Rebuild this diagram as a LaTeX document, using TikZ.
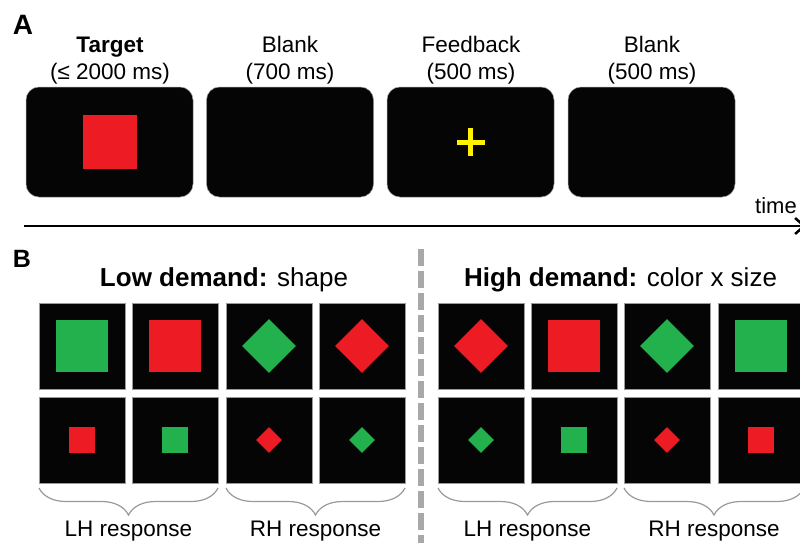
\documentclass[tikz,border=0pt]{standalone}
\usepackage{fontspec}
\setmainfont{Liberation Sans}
\usetikzlibrary{shapes.geometric,decorations.pathreplacing,arrows.meta}
\definecolor{stimred}{HTML}{ED1C24}
\definecolor{stimgreen}{HTML}{22B14C}
\definecolor{stimyellow}{HTML}{FFF200}
\definecolor{scr}{HTML}{050505}
\definecolor{edgegray}{HTML}{9A9A9A}
\definecolor{sepgray}{HTML}{A8A8A8}
\begin{document}
\begin{tikzpicture}[x=1pt,y=-1pt,
  screen/.style={rectangle, rounded corners=13pt, fill=scr, draw=edgegray, line width=0.5pt, minimum width=167pt, minimum height=110pt, inner sep=0pt},
  cell/.style={rectangle, fill=scr, draw=edgegray, line width=0.8pt, minimum size=86pt, inner sep=0pt},
  bigsq/.style={rectangle, minimum size=52pt, inner sep=0pt},
  smsq/.style={rectangle, minimum size=26pt, inner sep=0pt},
  bigdia/.style={diamond, minimum size=54pt, inner sep=0pt},
  smdia/.style={diamond, minimum size=26pt, inner sep=0pt},
  lbl/.style={font=\fontsize{22.5}{25}\selectfont, anchor=base, inner sep=0pt},
  head/.style={font=\fontsize{26}{28}\selectfont, anchor=base, inner sep=0pt},
  resp/.style={font=\fontsize{22.5}{25}\selectfont, anchor=base, inner sep=0pt},
  panel/.style={font=\bfseries, anchor=base, inner sep=0pt},
  bracestyle/.style={draw=edgegray, line width=1.2pt, decorate, decoration={brace, amplitude=27pt, mirror}}
]
\useasboundingbox[fill=white] (0,0) rectangle (800,542);

% ---------- Panel A ----------
\node[panel, font=\fontsize{28}{30}\selectfont\bfseries] (labA) at (23,34) {A};

\node[screen] (s1) at (109.5,142) {};
\node[screen] (s2) at (290,142) {};
\node[screen] (s3) at (470.5,142) {};
\node[screen] (s4) at (651.5,142) {};

\node[lbl, font=\fontsize{22.5}{25}\selectfont\bfseries] (t1a) at (110,52.5) {Target};
\node[lbl] (t1b) at (110,79) {(≤ 2000 ms)};
\node[lbl] (t2a) at (290,52.5) {Blank};
\node[lbl] (t2b) at (290,79) {(700 ms)};
\node[lbl] (t3a) at (471,52.5) {Feedback};
\node[lbl] (t3b) at (471,79) {(500 ms)};
\node[lbl] (t4a) at (652,52.5) {Blank};
\node[lbl] (t4b) at (652,79) {(500 ms)};

\node[rectangle, fill=stimred, minimum size=54pt, inner sep=0pt] (tgt) at (s1) {};
\draw[stimyellow, line width=5pt] ([xshift=-14pt]s3.center) -- ([xshift=14pt]s3.center);
\draw[stimyellow, line width=5pt] ([yshift=-14pt]s3.center) -- ([yshift=14pt]s3.center);

\coordinate (ts) at (24,226);
\coordinate (te) at (806,226);
\draw[line width=2.5pt, -{Straight Barb[length=9pt,width=16pt,line width=2.5pt]}] (ts) -- (te);
\node[lbl, font=\fontsize{22}{24}\selectfont] (time) at (776,213) {time};

% ---------- Panel B ----------
\node[panel, font=\fontsize{25}{28}\selectfont\bfseries] (labB) at (22,267) {B};

\node[head] (hlow) at (224,286.7) {\textbf{Low demand:} shape};
\node[head] (hhigh) at (620.5,286.7) {\textbf{High demand:} color x size};

\coordinate (d0) at (421,249);
\coordinate (d1) at (421,546);
\draw[sepgray, line width=6pt, dash pattern=on 17pt off 5pt] (d0) -- (d1);

\foreach \cx [count=\i] in {82,175,269,362,481,574,667,761} {
  \node[cell] (a\i) at (\cx,346) {};
  \node[cell] (b\i) at (\cx,440) {};
}

% low demand, row 1
\node[bigsq, fill=stimgreen] (sa1) at (a1) {};
\node[bigsq, fill=stimred] (sa2) at (a2) {};
\node[bigdia, fill=stimgreen] (sa3) at (a3) {};
\node[bigdia, fill=stimred] (sa4) at (a4) {};
% low demand, row 2
\node[smsq, fill=stimred] (sb1) at (b1) {};
\node[smsq, fill=stimgreen] (sb2) at (b2) {};
\node[smdia, fill=stimred] (sb3) at (b3) {};
\node[smdia, fill=stimgreen] (sb4) at (b4) {};
% high demand, row 1
\node[bigdia, fill=stimred] (sa5) at (a5) {};
\node[bigsq, fill=stimred] (sa6) at (a6) {};
\node[bigdia, fill=stimgreen] (sa7) at (a7) {};
\node[bigsq, fill=stimgreen] (sa8) at (a8) {};
% high demand, row 2
\node[smdia, fill=stimgreen] (sb5) at (b5) {};
\node[smsq, fill=stimgreen] (sb6) at (b6) {};
\node[smdia, fill=stimred] (sb7) at (b7) {};
\node[smsq, fill=stimred] (sb8) at (b8) {};

% braces
\coordinate (br1l) at (39,488);  \coordinate (br1r) at (218,488);
\coordinate (br2l) at (226,488); \coordinate (br2r) at (405,488);
\coordinate (br3l) at (438,488); \coordinate (br3r) at (617,488);
\coordinate (br4l) at (624,488); \coordinate (br4r) at (804,488);
\draw[bracestyle] (br1l) -- (br1r);
\draw[bracestyle] (br2l) -- (br2r);
\draw[bracestyle] (br3l) -- (br3r);
\draw[bracestyle] (br4l) -- (br4r);

\node[resp] (r1) at (128.5,536) {LH response};
\node[resp] (r2) at (315.5,536) {RH response};
\node[resp] (r3) at (527.5,536) {LH response};
\node[resp] (r4) at (714,536) {RH response};
\end{tikzpicture}
\end{document}
